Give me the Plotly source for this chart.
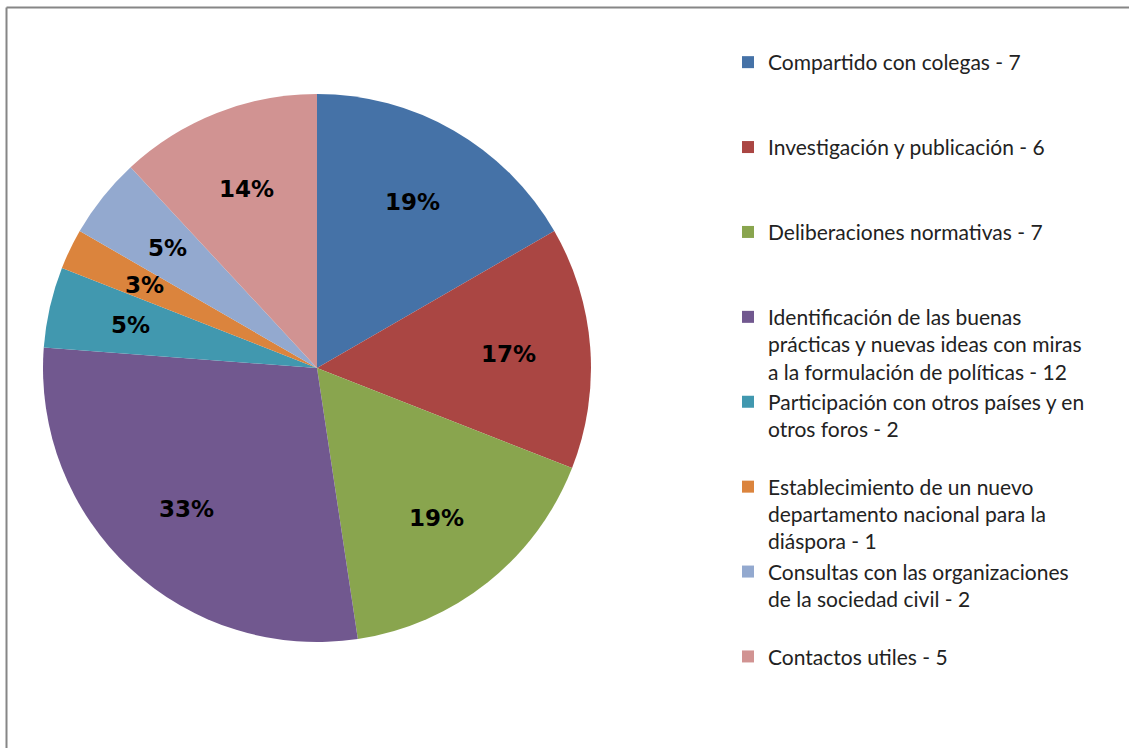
import math
import plotly.graph_objects as go

categories = [
    "Compartido con colegas - 7",
    "Investigación y publicación - 6",
    "Deliberaciones normativas - 7",
    "Identificación de las buenas<br>prácticas y nuevas ideas con miras<br>a la formulación de políticas - 12",
    "Participación con otros países y en<br>otros foros - 2",
    "Establecimiento de un nuevo<br>departamento nacional para la<br>diáspora - 1",
    "Consultas con las organizaciones<br>de la sociedad civil - 2",
    "Contactos utiles - 5",
]
values = [7, 6, 7, 12, 2, 1, 2, 5]
pct_labels = ["19%", "17%", "19%", "33%", "5%", "3%", "5%", "14%"]
colors = ["#4572A7", "#AA4643", "#89A54E", "#71588F", "#4198AF", "#DB843D", "#93A9CF", "#D19392"]

W, H = 1129, 748

# pad legend entries to equal height (3 lines) so entries are evenly spaced
def pad(lbl, n=3):
    k = lbl.count("<br>") + 1
    return lbl + "<br>\u00a0" * (n - k)

legend_labels = [pad(c) for c in categories]

cx, cy, R = 317, 368, 274
fig = go.Figure(go.Pie(
    labels=legend_labels,
    values=values,
    textinfo="none",
    marker=dict(colors=colors, line=dict(width=0)),
    sort=False,
    direction="clockwise",
    rotation=0,
    hoverinfo="label+value",
    domain=dict(x=[(cx - R) / W, (cx + R) / W], y=[(H - cy - R) / H, (H - cy + R) / H]),
))

# data labels placed at each slice's mid-angle (derived from the values)
total = sum(values)
label_r = 0.70 * R
annotations = []
cum = 0
for v, t in zip(values, pct_labels):
    mid = (cum + v / 2) / total * 2 * math.pi
    cum += v
    px = cx + label_r * math.sin(mid)
    py = cy - label_r * math.cos(mid)
    annotations.append(dict(
        x=px / W, y=1 - py / H, xref="paper", yref="paper",
        text=t, showarrow=False, xanchor="center", yanchor="middle",
        font=dict(family="DejaVu Sans", size=23, color="#000000", weight="bold"),
    ))

# chart-area frame (only top and left edges are visible in the crop)
frame_left = 6.5 / W
frame_top = 1 - 7.5 / H
frame_style = dict(color="#868686", width=2)

fig.update_layout(
    width=W, height=H,
    margin=dict(l=0, r=0, t=0, b=0),
    paper_bgcolor="white",
    plot_bgcolor="white",
    showlegend=True,
    legend=dict(
        x=728 / W, y=1 - 42 / H, xanchor="left", yanchor="top",
        font=dict(family="Lato", size=21, color="#222222"),
        valign="top",
        traceorder="normal",
        bgcolor="rgba(0,0,0,0)",
    ),
    annotations=annotations,
    shapes=[
        dict(type="line", xref="paper", yref="paper",
             x0=frame_left, x1=1, y0=frame_top, y1=frame_top, line=frame_style),
        dict(type="line", xref="paper", yref="paper",
             x0=frame_left, x1=frame_left, y0=0, y1=frame_top, line=frame_style),
    ],
)

fig.write_html(
    "out.html", config={"displayModeBar": False},
    post_script=("document.body.style.margin='0px';"
                 "document.body.style.overflow='hidden';"
                 "document.documentElement.style.overflow='hidden';"),
)
